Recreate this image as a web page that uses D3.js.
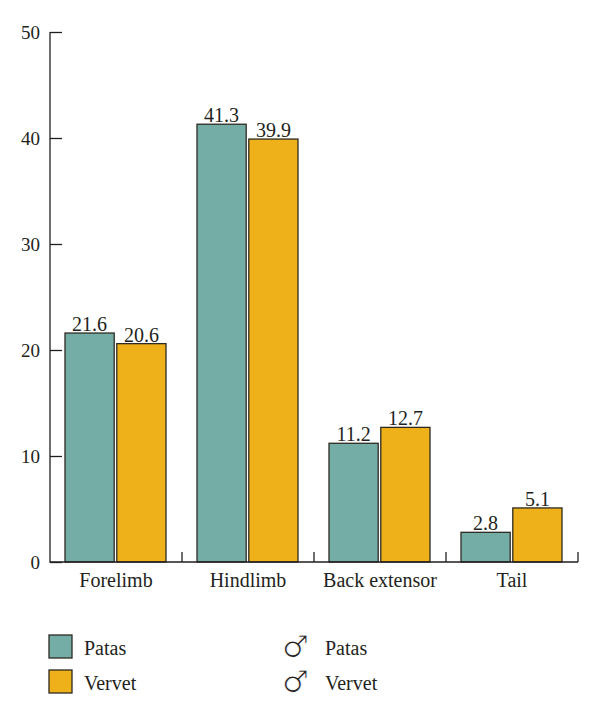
<!DOCTYPE html>
<html>
<head>
<meta charset="utf-8">
<script src="https://cdn.jsdelivr.net/npm/d3@7"></script>
<style>
  body { margin: 0; background: #fff; }
  text { font-family: "Liberation Serif", "DejaVu Serif", serif; fill: #231f20; }
</style>
</head>
<body>
<svg id="canvas" width="600" height="716"></svg>
<script>
// data
var categories = ['Forelimb', 'Hindlimb', 'Back extensor', 'Tail'];
var seriesNames = ['Patas', 'Vervet'];
var patas = [21.6, 41.3, 11.2, 2.8];
var vervet = [20.6, 39.9, 12.7, 5.1];
var yTicks = [0, 10, 20, 30, 40, 50];
var colors = ['#74ada6', '#eeb119'];

var canvas = d3.select('#canvas');
var margin = { left: 50, right: 22, top: 32, bottom: 154 };
var width = +canvas.attr('width');
var height = +canvas.attr('height');

var xScale = d3.scaleBand()
  .domain(categories)
  .range([margin.left, width - margin.right]);

var yScale = d3.scaleLinear()
  .domain([0, 50])
  .range([height - margin.bottom, margin.top]);

// inner scale for the two bars in each group
var xInner = d3.scaleBand()
  .domain(seriesNames)
  .range([15, xScale.bandwidth() - 16])
  .paddingInner(0.05);

var rows = categories.map(function(c, i) {
  return { cat: c, values: [patas[i], vervet[i]] };
});

var groups = canvas.selectAll('g.group')
  .data(rows)
  .enter()
  .append('g')
  .attr('class', 'group')
  .attr('transform', function(d) { return 'translate(' + xScale(d.cat) + ',0)'; });

groups.selectAll('rect')
  .data(function(d) { return d.values.map(function(v, j) { return { name: seriesNames[j], v: v, j: j }; }); })
  .enter()
  .append('rect')
  .attr('x', function(d) { return xInner(d.name); })
  .attr('y', function(d) { return yScale(d.v); })
  .attr('width', xInner.bandwidth())
  .attr('height', function(d) { return yScale(0) - yScale(d.v); })
  .style('fill', function(d) { return colors[d.j]; })
  .style('stroke', '#2e2a22')
  .style('stroke-width', 1.3);

groups.selectAll('text.val')
  .data(function(d) { return d.values.map(function(v, j) { return { name: seriesNames[j], v: v }; }); })
  .enter()
  .append('text')
  .attr('class', 'val')
  .attr('x', function(d) { return xInner(d.name) + xInner.bandwidth() / 2; })
  .attr('y', function(d) { return yScale(d.v) - 2; })
  .attr('text-anchor', 'middle')
  .style('font-size', '20px')
  .text(function(d) { return d3.format('.1f')(d.v); });

// y axis, ticks pointing inward
var yAxis = d3.axisRight(yScale)
  .tickValues(yTicks)
  .tickSize(12)
  .tickFormat(d3.format('d'));

var yg = canvas.append('g')
  .attr('transform', 'translate(' + margin.left + ',0)')
  .call(yAxis);
yg.select('.domain').remove();
yg.selectAll('line').style('stroke', '#231f20').style('stroke-width', 1.3);
yg.selectAll('text')
  .attr('x', -10)
  .attr('text-anchor', 'end')
  .style('font-size', '19px')
  .style('font-family', '"Liberation Serif", serif')
  .style('fill', '#231f20');

// x axis with separator ticks at band edges pointing up
var edges = categories.map(function(c) { return xScale(c) + xScale.bandwidth(); });
canvas.selectAll('line.sep')
  .data(edges)
  .enter()
  .append('line')
  .attr('x1', function(d) { return d; })
  .attr('x2', function(d) { return d; })
  .attr('y1', yScale(0))
  .attr('y2', yScale(0) - 10)
  .style('stroke', '#231f20')
  .style('stroke-width', 1.3);

canvas.append('path')
  .attr('d', 'M' + margin.left + ',' + yScale(50) + 'V' + yScale(0) + 'H' + (width - margin.right))
  .style('fill', 'none')
  .style('stroke', '#231f20')
  .style('stroke-width', 1.3);

canvas.selectAll('text.cat')
  .data(categories)
  .enter()
  .append('text')
  .attr('class', 'cat')
  .attr('x', function(d) { return xScale(d) + xScale.bandwidth() / 2; })
  .attr('y', yScale(0) + 25)
  .attr('text-anchor', 'middle')
  .style('font-size', '20px')
  .text(function(d) { return d; });

// legend
var legend = canvas.append('g');
seriesNames.forEach(function(name, j) {
  var y = 635 + j * 35;
  legend.append('rect')
    .attr('x', 49).attr('y', y)
    .attr('width', 23).attr('height', 23)
    .style('fill', colors[j])
    .style('stroke', '#2e2a22')
    .style('stroke-width', 1.3);
  legend.append('text')
    .attr('x', 84).attr('y', y + 20)
    .style('font-size', '20px')
    .text(name);
  legend.append('text')
    .attr('x', 282).attr('y', y + 22)
    .style('font-family', '"DejaVu Sans", sans-serif')
    .style('font-size', '30px')
    .style('stroke', '#fff')
    .style('stroke-width', 0.9)
    .text('\u2642');
  legend.append('text')
    .attr('x', 325).attr('y', y + 20)
    .style('font-size', '20px')
    .text(name);
});
</script>
</body>
</html>
